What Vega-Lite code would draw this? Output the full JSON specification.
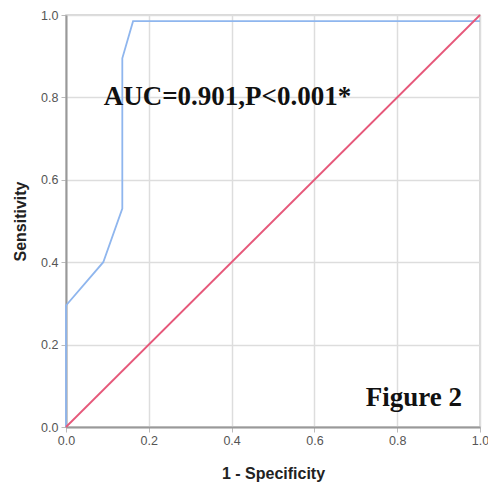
{
  "$schema": "https://vega.github.io/schema/vega-lite/v6.json",
  "width": 414,
  "height": 412,
  "autosize": "none",
  "padding": {"left": 66, "top": 15, "right": 8, "bottom": 57},
  "background": "white",
  "config": {
    "view": {"stroke": "#cccccc", "strokeWidth": 1.5},
    "axis": {
      "gridColor": "#dddddd",
      "gridWidth": 1.5,
      "domainColor": "#999999",
      "domainWidth": 2,
      "tickColor": "#bbbbbb",
      "tickSize": 5,
      "labelFont": "Liberation Sans",
      "labelFontSize": 12.5,
      "labelColor": "#555555",
      "labelFlush": false,
      "labelOverlap": false,
      "labelBound": false,
      "titleFont": "Liberation Sans",
      "titleFontSize": 16,
      "titleFontWeight": "bold",
      "titleColor": "#222222"
    }
  },
  "datasets": {
    "curves": [
      {"series": "ROC", "order": 1, "fpr": 0.0, "tpr": 0.0},
      {"series": "ROC", "order": 2, "fpr": 0.0, "tpr": 0.295},
      {"series": "ROC", "order": 3, "fpr": 0.09, "tpr": 0.40},
      {"series": "ROC", "order": 4, "fpr": 0.136, "tpr": 0.53},
      {"series": "ROC", "order": 5, "fpr": 0.136, "tpr": 0.895},
      {"series": "ROC", "order": 6, "fpr": 0.162, "tpr": 0.985},
      {"series": "ROC", "order": 7, "fpr": 1.0, "tpr": 0.985},
      {"series": "Reference", "order": 1, "fpr": 0.0, "tpr": 0.0},
      {"series": "Reference", "order": 2, "fpr": 1.0, "tpr": 1.0}
    ],
    "labels": [
      {"text": "AUC=0.901,P<0.001*", "x": 0.39, "y": 0.80},
      {"text": "Figure 2", "x": 0.84, "y": 0.07}
    ]
  },
  "layer": [
    {
      "data": {"name": "curves"},
      "mark": {"type": "line", "strokeWidth": 1.8},
      "encoding": {
        "x": {
          "field": "fpr", "type": "quantitative",
          "scale": {"domain": [0, 1], "nice": false},
          "axis": {"title": "1 - Specificity", "format": ".1f", "labelPadding": 2, "titlePadding": 19, "values": [0, 0.2, 0.4, 0.6, 0.8, 1.0]}
        },
        "y": {
          "field": "tpr", "type": "quantitative",
          "scale": {"domain": [0, 1], "nice": false},
          "axis": {"title": "Sensitivity", "format": ".1f", "labelPadding": 3, "titlePadding": 12, "values": [0, 0.2, 0.4, 0.6, 0.8, 1.0]}
        },
        "color": {
          "field": "series", "type": "nominal",
          "scale": {"domain": ["ROC", "Reference"], "range": ["#8fb6ee", "#e6587a"]},
          "legend": null
        },
        "order": {"field": "order", "type": "quantitative"}
      }
    },
    {
      "data": {"name": "labels"},
      "mark": {"type": "text", "font": "Liberation Serif", "fontWeight": "bold", "fontSize": 27, "color": "#111111", "align": "center", "baseline": "middle"},
      "encoding": {
        "x": {"field": "x", "type": "quantitative"},
        "y": {"field": "y", "type": "quantitative"},
        "text": {"field": "text", "type": "nominal"}
      }
    }
  ]
}
